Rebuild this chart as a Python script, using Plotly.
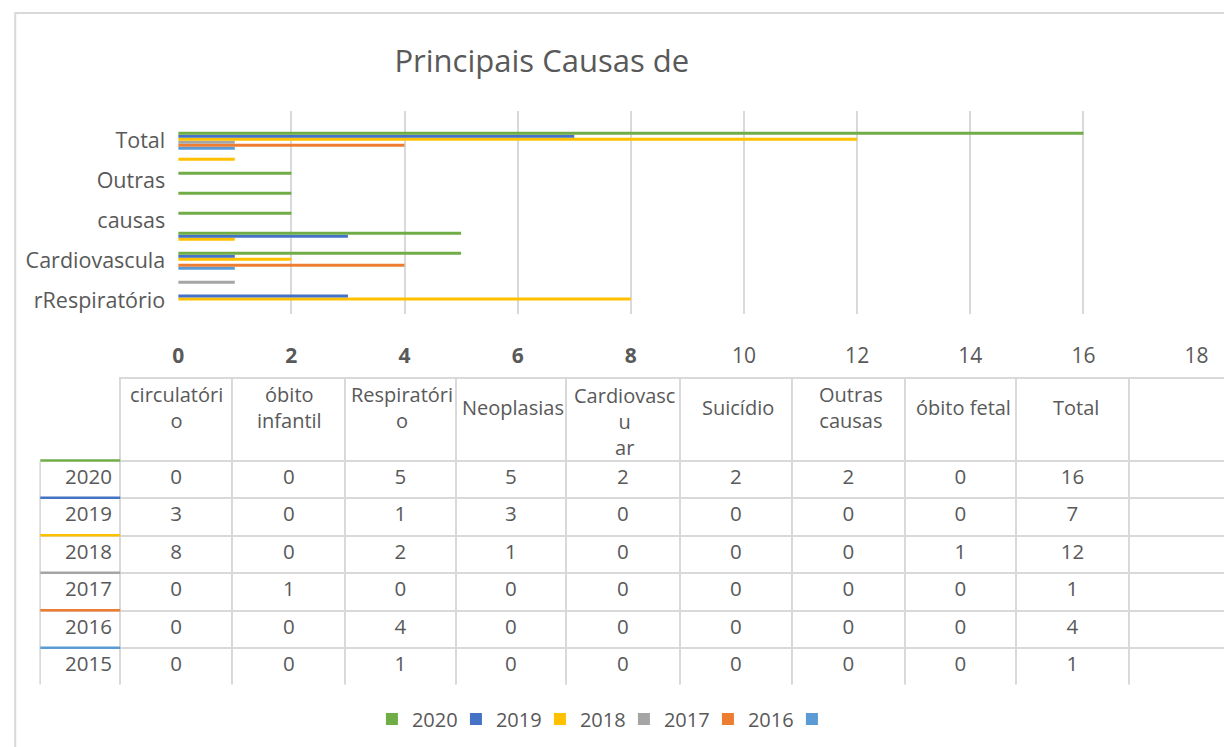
import plotly.graph_objects as go

# ---- data ----
categories = ["circulatório", "óbito infantil", "Respiratório", "Neoplasias",
              "Cardiovascular", "Suicídio", "Outras causas", "óbito fetal", "Total"]
header_labels = ["circulatóri<br>o", "óbito<br>infantil", "Respiratóri<br>o", "Neoplasias",
                 "Cardiovasc<br>u<br>ar", "Suicídio", "Outras<br>causas", "óbito fetal", "Total"]
years = ["2020", "2019", "2018", "2017", "2016", "2015"]
v2020 = [0, 0, 5, 5, 2, 2, 2, 0, 16]
v2019 = [3, 0, 1, 3, 0, 0, 0, 0, 7]
v2018 = [8, 0, 2, 1, 0, 0, 0, 1, 12]
v2017 = [0, 1, 0, 0, 0, 0, 0, 0, 1]
v2016 = [0, 0, 4, 0, 0, 0, 0, 0, 4]
v2015 = [0, 0, 1, 0, 0, 0, 0, 0, 1]
series = [v2020, v2019, v2018, v2017, v2016, v2015]
legend_names = ["2020", "2019", "2018", "2017", "2016", " "]
colors = ["#70AD47", "#4472C4", "#FFC000", "#A5A5A5", "#ED7D31", "#5B9BD5"]
x_ticks = [0, 2, 4, 6, 8, 10, 12, 14, 16, 18]
y_tick_cats = ["Total", "Outras causas", "Cardiovascular", "Respiratório", "circulatório"]
y_tick_text = ["Total", "Outras", "causas", "Cardiovascula", "rRespiratório"]

TXT = "#595959"
GRID = "#D9D9D9"
FONT = "Open Sans"
OFF = 8                      # html body margin
W, H = 1232, 740
SX, DX = 0.986, 5.8          # observed page -> screenshot mapping
SY, DY = 1.0, -1.0


def px(X):
    return ((X - DX) / SX - OFF) / W


def py(Y):
    return 1 - ((Y - DY) / SY - OFF) / H


def lx(n):  # length in screenshot px -> figure px
    return n / SY


fig = go.Figure()
# add from 2015 up so that 2020 sits at top of each group
for i in reversed(range(len(years))):
    fig.add_trace(go.Bar(
        y=categories, x=series[i], orientation="h",
        name=legend_names[i], marker=dict(color=colors[i], line=dict(width=0)),
        legendrank=i + 1, hovertemplate=years[i] + ": %{x}<extra>%{y}</extra>",
    ))

# data table
col_edges = [40, 120, 233, 346, 457, 568, 682, 795, 908, 1020, 1133, 1232]
col_widths = [col_edges[k + 1] - col_edges[k] for k in range(len(col_edges) - 1)]
col_vals = [years] + [[s[j] for s in series] for j in range(len(categories))] + [[""] * 6]
TABLE_T, HDR_H, ROW_H = 377, 83, 37.5
TABLE_B = TABLE_T + HDR_H + ROW_H * len(years)
fig.add_trace(go.Table(
    domain=dict(x=[px(col_edges[0]), min(1.0, px(col_edges[-1]))], y=[py(TABLE_B), py(TABLE_T)]),
    columnwidth=col_widths,
    header=dict(values=[""] * len(col_widths), height=lx(HDR_H),
                fill=dict(color="white"),
                line=dict(color=["white"] + [GRID] * (len(col_widths) - 1), width=2)),
    cells=dict(values=col_vals, height=lx(ROW_H),
               align=["right"] + ["center"] * 10,
               font=dict(family=FONT, size=20.5, color=TXT),
               fill=dict(color="white"),
               line=dict(color=GRID, width=2)),
))

# header labels (each line centred)
for k, lab in enumerate(header_labels):
    n_lines = lab.count("<br>") + 1
    yc = 407 if n_lines <= 2 else 421
    fig.add_annotation(text=lab, xref="paper", yref="paper",
                       x=px((col_edges[k + 1] + col_edges[k + 2]) / 2), y=py(yc),
                       xanchor="center", yanchor="middle", align="center",
                       showarrow=False, font=dict(family=FONT, size=20, color=TXT))

# coloured series markers above year cells
for k in range(len(years)):
    ypx = TABLE_T + HDR_H + ROW_H * k
    fig.add_shape(type="line", xref="paper", yref="paper",
                  x0=px(col_edges[0]), x1=px(col_edges[1]), y0=py(ypx), y1=py(ypx),
                  line=dict(color=colors[k], width=2.5))

# outer chart border
fig.add_shape(type="rect", xref="paper", yref="paper",
              x0=max(px(10), 0.001), x1=1.05, y0=-0.05, y1=py(12),
              line=dict(color=GRID, width=2))

fig.update_layout(
    width=W, height=H,
    margin=dict(l=0, r=0, t=0, b=0),
    paper_bgcolor="white", plot_bgcolor="white",
    font=dict(family=FONT, color=TXT),
    title=dict(text="Principais Causas de", x=px(540), xanchor="center",
               y=py(60), yanchor="middle",
               font=dict(family=FONT, size=31, color=TXT)),
    barmode="group", bargap=0.1, bargroupgap=0.0,
    showlegend=True,
    legend=dict(orientation="h", x=px(624), xanchor="center",
                y=py(719), yanchor="middle",
                font=dict(family=FONT, size=20, color=TXT),
                traceorder="normal", itemwidth=30,
                entrywidth=39, entrywidthmode="pixels"),
    xaxis=dict(domain=[px(178), px(1197)], range=[0, 18],
               tickvals=x_ticks,
               ticktext=["<b>%d</b>" % t if t < 10 else str(t) for t in x_ticks],
               tickfont=dict(family=FONT, size=21, color=TXT),
               showgrid=True, gridcolor=GRID, gridwidth=1.5,
               zeroline=False, showline=False, ticks="",
               ticklabelstandoff=27, fixedrange=True),
    yaxis=dict(domain=[py(313), py(110)], range=[-0.65, 9.5],
               type="category", categoryorder="array", categoryarray=categories,
               tickvals=y_tick_cats, ticktext=y_tick_text,
               tickfont=dict(family=FONT, size=21.5, color=TXT),
               showgrid=False, zeroline=False, showline=False, ticks="",
               ticklabelstandoff=12, fixedrange=True),
)

fig.write_html("out.html")
